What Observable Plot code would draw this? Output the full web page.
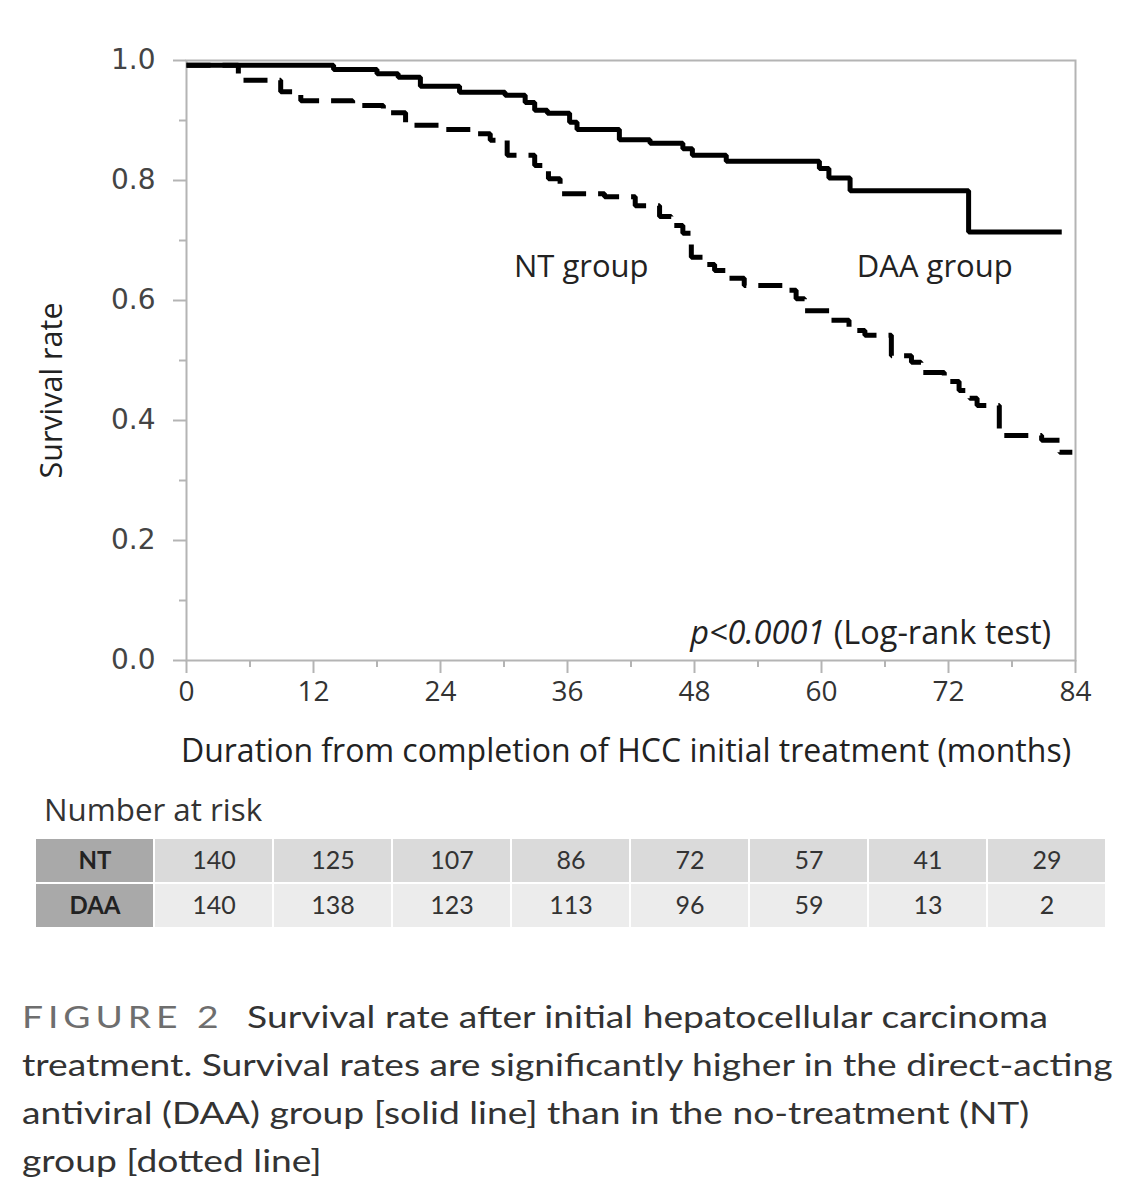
<!DOCTYPE html>
<html><head><meta charset="utf-8">
<script src="https://cdn.jsdelivr.net/npm/d3@7"></script>
<script src="https://cdn.jsdelivr.net/npm/@observablehq/plot@0.6"></script>
<style>
body{margin:0;background:#fff;width:1146px;height:1200px;position:relative;font-family:Lato,sans-serif;overflow:hidden;}
#chart{position:absolute;left:0;top:0;}
#risk-title{position:absolute;left:44px;top:794px;font-family:"Open Sans",sans-serif;font-size:31.3px;line-height:1;color:#333;}
#table{position:absolute;left:0;top:838px;}
#caption{position:absolute;left:22px;top:992px;font-size:30px;line-height:48px;color:#333;white-space:nowrap;transform:scaleX(1.24);transform-origin:0 0;}
#caption .fig{color:#6e6e6e;letter-spacing:4px;margin-right:19px;}
</style></head><body>
<div id="chart"></div>
<div id="risk-title">Number at risk</div>
<div id="table"></div>
<div id="caption"><span class="fig">FIGURE 2</span>Survival rate after initial hepatocellular carcinoma<br>treatment. Survival rates are significantly higher in the direct-acting<br>antiviral (DAA) group [solid line] than in the no-treatment (NT)<br>group [dotted line]</div>
<script>
// Kaplan–Meier step data (months, survival rate)
const daaTime = [0, 13.9, 18.0, 20.0, 22.1, 25.8, 30.1, 32.0, 32.9, 34.1, 36.2, 36.9, 40.9, 43.8, 46.9, 47.8, 51.0, 59.8, 60.7, 62.7, 73.9, 82.7];
const daaSurv = [0.992, 0.985, 0.978, 0.972, 0.957, 0.947, 0.942, 0.930, 0.917, 0.912, 0.897, 0.885, 0.868, 0.862, 0.853, 0.842, 0.832, 0.820, 0.804, 0.783, 0.714, 0.714];
const ntTime = [0, 4.9, 8.9, 10.8, 15.7, 18.6, 20.7, 24.0, 27.5, 28.7, 30.3, 32.9, 34.2, 35.3, 39.5, 42.4, 44.7, 45.8, 46.9, 47.7, 48.8, 49.9, 51.1, 52.7, 56.5, 57.6, 58.4, 60.8, 62.6, 64.1, 66.6, 68.5, 69.4, 71.6, 73.0, 74.0, 74.7, 76.8, 80.8, 82.5, 83.7];
const ntSurv = [0.992, 0.967, 0.948, 0.933, 0.925, 0.913, 0.892, 0.885, 0.878, 0.867, 0.842, 0.825, 0.803, 0.778, 0.773, 0.758, 0.740, 0.725, 0.712, 0.672, 0.660, 0.650, 0.637, 0.625, 0.617, 0.603, 0.583, 0.567, 0.550, 0.542, 0.508, 0.497, 0.480, 0.465, 0.450, 0.437, 0.425, 0.375, 0.367, 0.347, 0.347];

const xMajor = [0, 12, 24, 36, 48, 60, 72, 84];
const xMinor = [6, 18, 30, 42, 54, 66, 78];
const yMajor = [0, 0.2, 0.4, 0.6, 0.8, 1.0];
const yMinor = [0.1, 0.3, 0.5, 0.7, 0.9];

const groupLabels = [
  {t: 37.3, s: 0.655, label: "NT group"},
  {t: 70.7, s: 0.655, label: "DAA group"}
];
const pNote = [{t: 81.7, s: 0.045, label: "p<0.0001 (Log-rank test)"}];
const xLabel = "Duration from completion of HCC initial treatment (months)";
const yLabel = "Survival rate";

// Number at risk table
const riskTimes = [0, 12, 24, 36, 48, 60, 72, 84];
const riskNT = [140, 125, 107, 86, 72, 57, 41, 29];
const riskDAA = [140, 138, 123, 113, 96, 59, 13, 2];
const riskGroups = ["NT", "DAA"];

const daa = daaTime.map((t, i) => ({t, s: daaSurv[i]}));
const nt = ntTime.map((t, i) => ({t, s: ntSurv[i]}));

const gray = "#b4b4b4";
const sans = "'Open Sans', sans-serif";
const chart = Plot.plot({
  width: 1146, height: 780,
  marginLeft: 186, marginRight: 71, marginTop: 60, marginBottom: 120,
  x: {domain: [0, 84]},
  y: {domain: [0, 1]},
  style: {fontFamily: sans, fontSize: "28px", color: "#333", background: "transparent", overflow: "visible"},
  marks: [
    Plot.frame({stroke: gray, strokeWidth: 2}),
    Plot.axisY(yMajor, {tickSize: 13, tickPadding: 18, tickFormat: d3.format(".1f"), label: null, fontFamily: "DejaVu Sans", fontSize: 28, stroke: gray, strokeWidth: 2, fill: "#444"}),
    Plot.axisY(yMinor, {tickSize: 7, tickFormat: () => "", label: null, stroke: gray, strokeWidth: 2}),
    Plot.axisX(xMajor, {tickSize: 13, tickPadding: 8, label: null, fontFamily: sans, fontSize: 28, stroke: gray, strokeWidth: 2, fill: "#333"}),
    Plot.axisX(xMinor, {tickSize: 7, tickFormat: () => "", label: null, stroke: gray, strokeWidth: 2}),
    Plot.line(daa, {x: "t", y: "s", curve: "step-after", stroke: "#000", strokeWidth: 5, strokeLinecap: "butt", strokeLinejoin: "miter"}),
    Plot.line(nt, {x: "t", y: "s", curve: "step-after", stroke: "#000", strokeWidth: 5, strokeLinecap: "butt", strokeLinejoin: "miter", strokeDasharray: "24,12"}),
    Plot.text(groupLabels, {x: "t", y: "s", text: "label", fontFamily: sans, fontSize: 31, fill: "#222"}),
    Plot.text(pNote, {x: "t", y: "s", text: "label", textAnchor: "end", fontFamily: sans, fontSize: 32.5, fill: "#222"}),
    Plot.text([xLabel], {text: d => d, frameAnchor: "bottom", dx: -5, dy: 101, fontFamily: sans, fontSize: 32, fill: "#222"}),
    Plot.text([yLabel], {text: d => d, frameAnchor: "left", textAnchor: "middle", rotate: -90, dx: -134, dy: 30, fontFamily: sans, fontSize: 30.5, fill: "#222"})
  ]
});
d3.select(chart).selectAll("text").filter(function() { return this.textContent === pNote[0].label; })
  .html('<tspan font-style="italic">p&lt;0.0001</tspan> (Log-rank test)');
document.getElementById("chart").append(chart);

const cols = ["", ...riskTimes.map(String)];
const cells = [];
riskGroups.forEach((g, gi) => {
  cells.push({col: "", row: g, v: g, head: true});
  (gi === 0 ? riskNT : riskDAA).forEach((v, i) => cells.push({col: String(riskTimes[i]), row: g, v: String(v), head: false}));
});
const table = Plot.plot({
  width: 1146, height: 90,
  marginLeft: 32, marginRight: 37, marginTop: 0, marginBottom: 0,
  x: {domain: cols, padding: 0, axis: null},
  y: {domain: riskGroups, padding: 0, axis: null},
  style: {fontFamily: "Lato, sans-serif", background: "transparent"},
  marks: [
    Plot.cell(cells.filter(d => d.head), {x: "col", y: "row", fill: "#a9a9a9", inset: 1}),
    Plot.cell(cells.filter(d => !d.head && d.row === "NT"), {x: "col", y: "row", fill: "#dadada", inset: 1}),
    Plot.cell(cells.filter(d => !d.head && d.row === "DAA"), {x: "col", y: "row", fill: "#ececec", inset: 1}),
    Plot.text(cells.filter(d => d.head), {x: "col", y: "row", text: "v", fontSize: 24, fontWeight: "bold", fill: "#222"}),
    Plot.text(cells.filter(d => !d.head), {x: "col", y: "row", text: "v", fontSize: 25, fill: "#333"})
  ]
});
document.getElementById("table").append(table);
</script>
</body></html>
